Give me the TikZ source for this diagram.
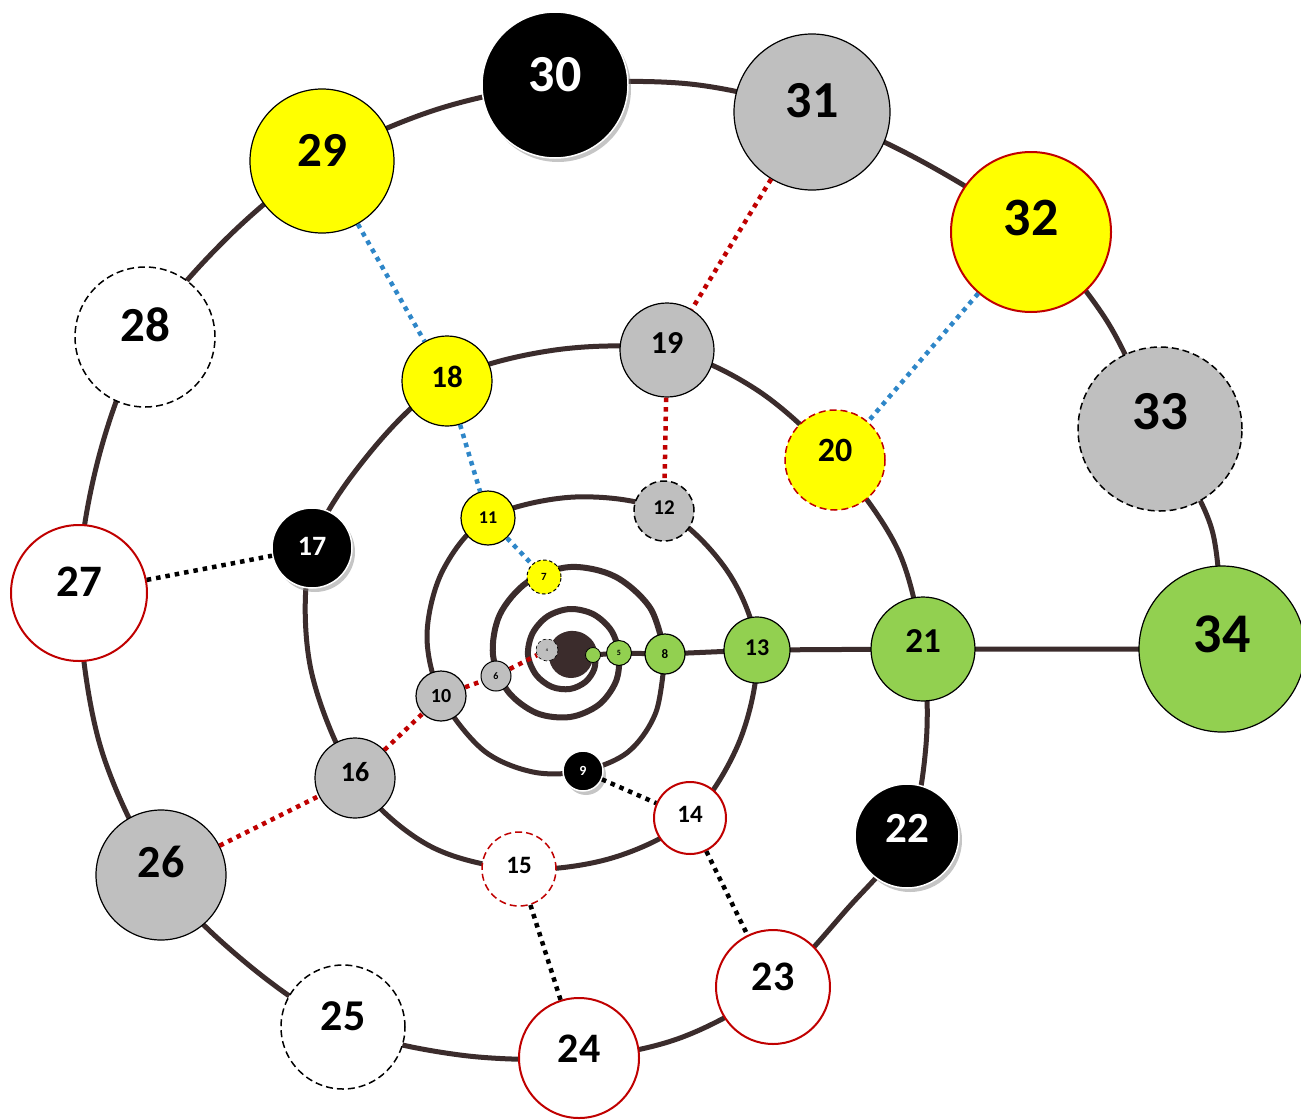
\documentclass[tikz,border=0pt]{standalone}
\usepackage{fontspec}
\setmainfont{Carlito}
\usetikzlibrary{shadows}
\definecolor{sp}{HTML}{3B2C2C}
\definecolor{ngreen}{HTML}{92D050}
\definecolor{ngray}{HTML}{BFBFBF}
\definecolor{nyel}{HTML}{FFFF00}
\definecolor{nred}{HTML}{C00000}
\definecolor{nblue}{HTML}{2E86C8}
\newcommand\fsz[1]{\fontsize{#1}{#1}\selectfont\bfseries}
\newcommand\sq[2]{({570+#2*cos(#1)},{655-#2*sin(#1)})}
\pgfdeclarelayer{paper}
\pgfdeclarelayer{bg}
\pgfsetlayers{paper,bg,main}
\begin{document}
\begin{tikzpicture}[x=1pt,y=-1pt,
 bub/.style={circle,inner sep=0pt,draw=black,line width=1.2pt,text=black},
 grn/.style={bub,fill=ngreen},
 gry/.style={bub,fill=ngray},
 yel/.style={bub,fill=nyel},
 blk/.style={bub,fill=black,text=white,draw=white,line width=1.5pt,
   drop shadow={shadow xshift=3pt,shadow yshift=-4pt,opacity=0.45,fill=gray}},
 wht/.style={bub,fill=white},
 redb/.style={draw=nred,line width=2pt},
 dsh/.style={dash pattern=on 7pt off 4pt,line width=1.5pt},
 dshs/.style={dash pattern=on 3.5pt off 2.5pt,line width=1pt},
 spline/.style={draw=sp,line width=5pt,line cap=round,line join=round},
 bdot/.style={draw=nblue,line width=4.5pt,dash pattern=on 4.5pt off 5pt},
 rdot/.style={draw=nred,line width=4.5pt,dash pattern=on 4.5pt off 5pt},
 kdot/.style={draw=black,line width=4.5pt,dash pattern=on 4.5pt off 5pt}]
\useasboundingbox (0,0) rectangle (1301,1119);
\begin{pgfonlayer}{paper}
\fill[white] (0,0) rectangle (1301,1119);
\end{pgfonlayer}

\node[grn,minimum size=166pt,font=\fsz{56},text depth=30pt] (n34) at (1222,649) {34};
\node[gry,dsh,minimum size=164pt,font=\fsz{55},text depth=36pt] (n33) at (1160,429) {33};
\node[yel,redb,minimum size=160pt,font=\fsz{54},text depth=28pt] (n32) at (1031,232) {32};
\node[gry,minimum size=156pt,font=\fsz{52},text depth=24pt] (n31) at (812,112) {31};
\node[blk,minimum size=146pt,font=\fsz{52},text depth=22pt] (n30) at (555,85) {30};
\node[yel,minimum size=144pt,font=\fsz{49},text depth=22pt] (n29) at (322,161) {29};
\node[wht,dsh,minimum size=140pt,font=\fsz{49},text depth=24pt] (n28) at (145,337) {28};
\node[wht,redb,minimum size=136pt,font=\fsz{45},text depth=22pt] (n27) at (79,593) {27};
\node[gry,minimum size=130pt,font=\fsz{46},text depth=26pt] (n26) at (161,875) {26};
\node[wht,dsh,minimum size=124pt,font=\fsz{44},text depth=22pt] (n25) at (343,1027) {25};
\node[wht,redb,minimum size=120pt,font=\fsz{42},text depth=18pt] (n24) at (579,1058) {24};
\node[wht,redb,minimum size=114pt,font=\fsz{42},text depth=20pt] (n23) at (773,987) {23};
\node[blk,minimum size=104pt,font=\fsz{43},text depth=16pt] (n22) at (907,836) {22};
\node[grn,minimum size=104pt,font=\fsz{35},text depth=16pt] (n21) at (923,649) {21};
\node[yel,redb,dsh,minimum size=100pt,font=\fsz{34},text depth=20pt] (n20) at (835,460) {20};
\node[gry,minimum size=94pt,font=\fsz{32},text depth=14pt] (n19) at (667,350) {19};
\node[yel,minimum size=90pt,font=\fsz{31},text depth=8pt] (n18) at (447,381) {18};
\node[blk,minimum size=80pt,font=\fsz{28},text depth=4pt] (n17) at (312,548) {17};
\node[gry,minimum size=80pt,font=\fsz{28},text depth=12pt] (n16) at (355,778) {16};
\node[wht,redb,dsh,minimum size=74pt,font=\fsz{25},text depth=8pt] (n15) at (519,869) {15};
\node[wht,redb,minimum size=72pt,font=\fsz{25},text depth=8pt] (n14) at (690,818) {14};
\node[grn,minimum size=66pt,font=\fsz{24},text depth=4pt] (n13) at (757,650) {13};
\node[gry,dsh,minimum size=60pt,font=\fsz{21},text depth=6pt] (n12) at (664,511) {12};
\node[yel,minimum size=54pt,font=\fsz{18}] (n11) at (488,518) {11};
\node[gry,minimum size=50pt,font=\fsz{20}] (n10) at (441,696) {10};
\node[blk,minimum size=40pt,font=\fsz{14}] (n9) at (583,771) {9};
\node[grn,minimum size=40pt,font=\fsz{13}] (n8) at (665,654) {8};
\node[yel,dshs,minimum size=34pt,font=\fsz{11}] (n7) at (544,577) {7};
\node[gry,line width=1pt,minimum size=30pt,font=\fsz{10}] (n6) at (496,676) {6};
\node[grn,line width=1pt,minimum size=25pt,font=\fsz{8}] (n5) at (619,653) {5};
\node[circle,inner sep=0pt,fill=sp,minimum size=44pt] (core) at (571,656) {};
\node[gry,dshs,line width=0.6pt,minimum size=22pt,font=\fsz{4}] (n4) at (547,650) {4};
\node[grn,line width=0.8pt,minimum size=15pt] (n3) at (593,655) {};

\begin{pgfonlayer}{bg}
\draw[spline] (core.center) -- (n3.center) -- (n5.center) -- (n8.center) -- (n13.center) -- (n21.center) -- (n34.center);
\draw[spline] plot[smooth,tension=0.55] coordinates {
 (n34.center) (1212,530) (n33.center) (1105,318) (n32.center) (925,163)
 (n31.center) (690,84) (n30.center) (435,110) (n29.center) (225,240)
 (n28.center) (98,460) (n27.center) (100,745) (n26.center) (245,962)
 (n25.center) (460,1055) (n24.center) (680,1038) (n23.center) (848,908)
 (n22.center) (926,745) (n21.center) (898,550) (n20.center) (757,390)
 (n19.center) (555,350) (n18.center) (368,455) (n17.center) (310,665)
 (n16.center) (428,845) (n15.center) (612,858) (n14.center) (740,740)
 (n13.center) (728,572) (n12.center) (575,497) (n11.center) (443,570)
 (427,635) (n10.center) (483,750) (533,772) (n9.center) (628,752)
 (656,712) (n8.center)};
\draw[spline,line width=6pt] plot[smooth,tension=0.55] coordinates {
 (n8.center) \sq{30}{93} \sq{60}{90.5} \sq{90}{88} \sq{120}{84.5} \sq{150}{81}
 \sq{180}{77} \sq{210}{72} \sq{240}{67} \sq{270}{62} \sq{300}{57.5} \sq{330}{53}
 \sq{360}{49} \sq{390}{48} \sq{420}{47} \sq{450}{46} \sq{480}{44.7} \sq{510}{43.3}
 \sq{540}{42} \sq{570}{39.3} \sq{600}{36.7} \sq{630}{34} \sq{660}{31} \sq{690}{28}
 \sq{720}{25} \sq{750}{23.7} \sq{780}{22.3} \sq{810}{21} \sq{840}{20} \sq{870}{19}
 \sq{900}{18}};
\end{pgfonlayer}

\draw[bdot] (n29) -- (n18);
\draw[bdot] (n18) -- (n11);
\draw[bdot] (n11) -- (n7);
\draw[bdot] (n32) -- (n20);
\draw[rdot] (n31) -- (n19);
\draw[rdot] (n19) -- (n12);
\draw[rdot] (n26) -- (n16);
\draw[rdot] (n16) -- (n10);
\draw[rdot] (n10) -- (n6);
\draw[rdot] (n6) -- (n4);
\draw[kdot] (n27) -- (n17);
\draw[kdot] (n9) -- (n14);
\draw[kdot] (n14) -- (n23);
\draw[kdot] (n15) -- (n24);
\end{tikzpicture}
\end{document}
